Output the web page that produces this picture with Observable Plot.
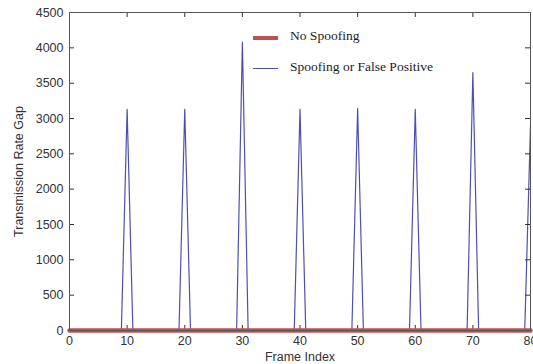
<!DOCTYPE html>
<html><head><meta charset="utf-8">
<script src="https://cdn.jsdelivr.net/npm/d3@7"></script>
<script src="https://cdn.jsdelivr.net/npm/@observablehq/plot@0.6"></script>
<style>
body{margin:0;background:#fff;}
#wrap{position:relative;width:533px;height:364px;}
.leg{position:absolute;font-family:"Liberation Serif","Times New Roman",serif;font-size:13.5px;color:#222;white-space:nowrap;}
.sw{position:absolute;}
</style></head><body>
<div id="wrap"></div>
<script>
const peakFrames = [10, 20, 30, 40, 50, 60, 70, 80];
const peakValues = [3130, 3130, 4080, 3130, 3140, 3130, 3650, 2900];
const frameMin = 0, frameMax = 80;
const xTicks = [0, 10, 20, 30, 40, 50, 60, 70, 80];
const yTicks = [0, 500, 1000, 1500, 2000, 2500, 3000, 3500, 4000, 4500];
const seriesNames = ["No Spoofing", "Spoofing or False Positive"];

const spoof = d3.range(frameMin, frameMax + 1).map(f => {
  const i = peakFrames.indexOf(f);
  return {frame: f, gap: i >= 0 ? peakValues[i] : 0};
});
const noSpoof = [{frame: frameMin, gap: 0}, {frame: frameMax, gap: 0}];

const W = 533, H = 364, mL = 69, mR = 3, mT = 12, mB = 34, tl = 5;
const plotW = W - mL - mR, plotH = H - mT - mB;
const tickStyle = {stroke: "#333", strokeWidth: 1};

const chart = Plot.plot({
  width: W, height: H,
  marginLeft: mL, marginRight: mR, marginTop: mT, marginBottom: mB,
  style: {fontFamily: "Liberation Sans, Arial, sans-serif", fontSize: "12.5px", color: "#333", background: "#fff"},
  x: {domain: [frameMin, frameMax]},
  y: {domain: [0, 4500]},
  marks: [
    Plot.line(spoof, {x: "frame", y: "gap", stroke: "#4f4fb0", strokeWidth: 1.2}),
    Plot.tickX(xTicks, {x: d => d, insetTop: plotH - tl, ...tickStyle}),
    Plot.tickX(xTicks, {x: d => d, insetBottom: plotH - tl, ...tickStyle}),
    Plot.tickY(yTicks, {y: d => d, insetRight: plotW - tl, ...tickStyle}),
    Plot.tickY(yTicks, {y: d => d, insetLeft: plotW - tl, ...tickStyle}),
    Plot.line(noSpoof, {x: "frame", y: "gap", stroke: "#c0504d", strokeWidth: 4.5}),
    Plot.frame({stroke: "#555"}),
    Plot.axisX(xTicks, {anchor: "bottom", tickSize: 0, tickPadding: 6, tickFormat: "d", label: "Frame Index", labelAnchor: "center", labelArrow: "none", labelOffset: 30, fill: "#333"}),
    Plot.axisY(yTicks, {anchor: "left", tickSize: 0, tickPadding: 6, tickFormat: "d", label: "Transmission Rate Gap", labelAnchor: "center", labelArrow: "none", labelOffset: 55, fill: "#333"})
  ]
});
const wrap = document.getElementById("wrap");
wrap.appendChild(chart);

function legendItem(name, color, thick, top) {
  const sw = document.createElement("div");
  sw.className = "sw";
  sw.style.cssText = `left:253px;top:${top - thick/2}px;width:25px;height:${thick}px;background:${color};`;
  wrap.appendChild(sw);
  const t = document.createElement("div");
  t.className = "leg";
  t.textContent = name;
  t.style.left = "290px";
  t.style.top = (top - 10) + "px";
  wrap.appendChild(t);
}
legendItem(seriesNames[0], "#c0504d", 4, 38);
legendItem(seriesNames[1], "#4f4fb0", 1, 68.5);
</script>
</body></html>
